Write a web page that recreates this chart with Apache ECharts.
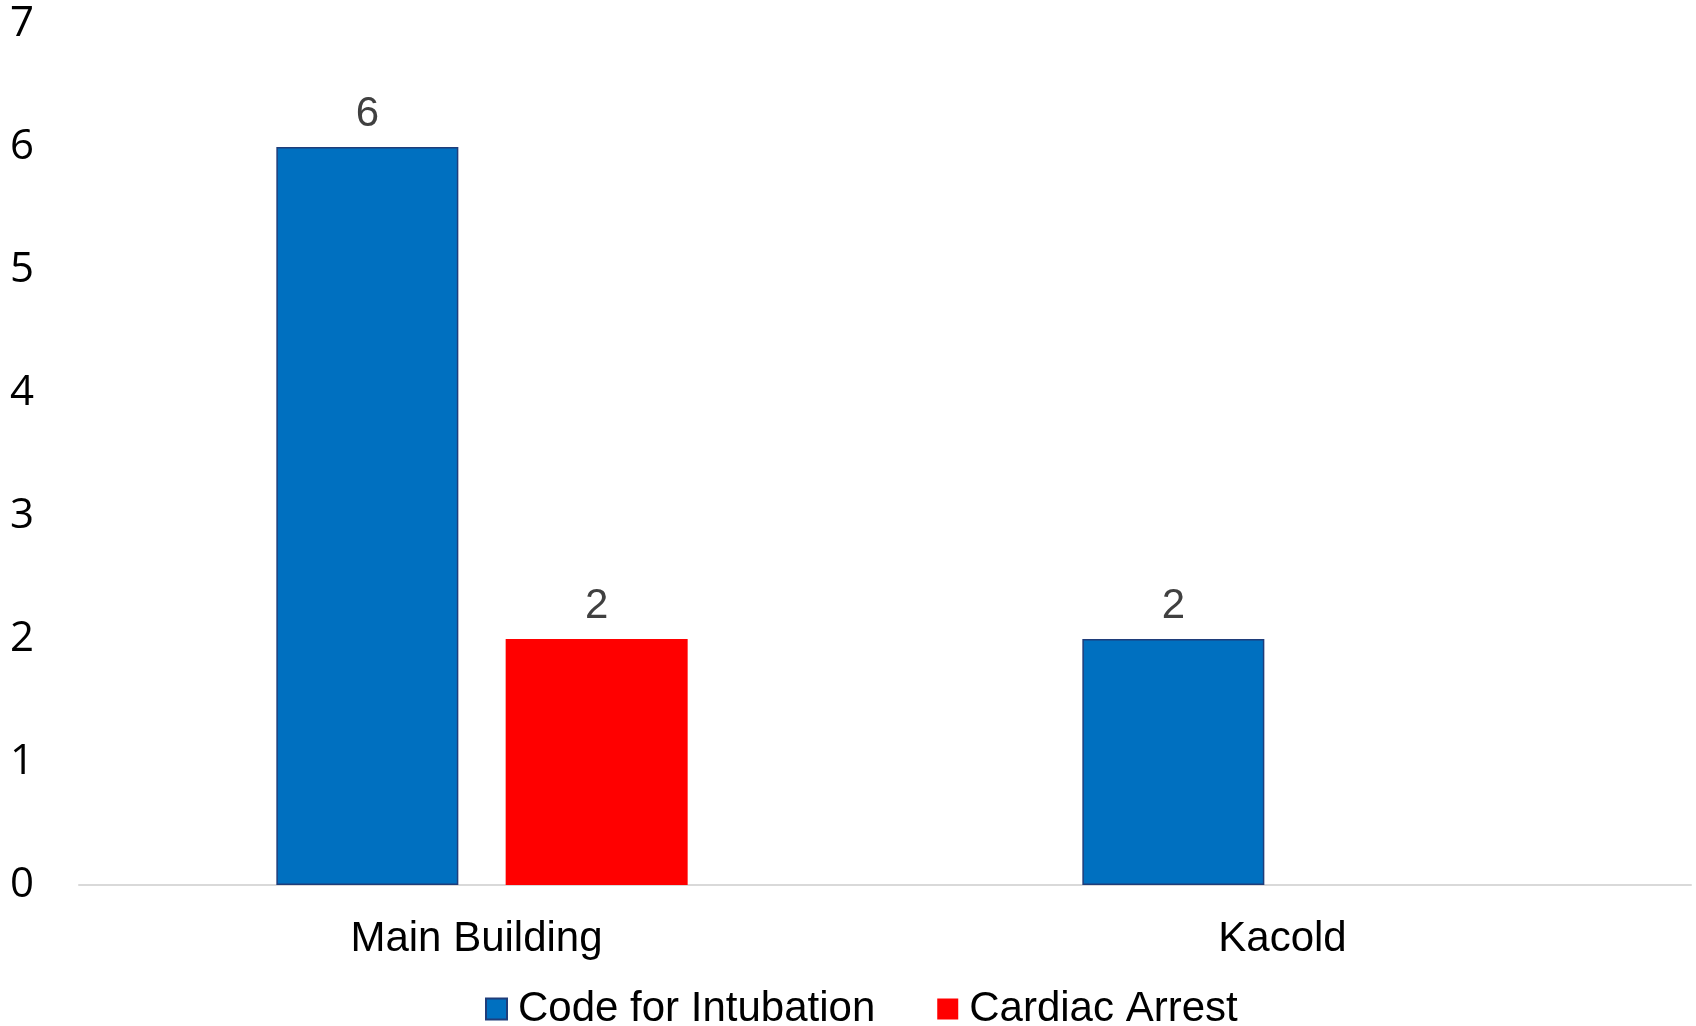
<!DOCTYPE html>
<html>
<head>
<meta charset="utf-8">
<script src="https://cdn.jsdelivr.net/npm/echarts@6/dist/echarts.min.js"></script>
<style>
  html, body { margin: 0; padding: 0; background: #fff; }
  #chart { width: 1696px; height: 1026px; }
</style>
</head>
<body>
<div id="chart"></div>
<script>
  var categories = ['Main Building', 'Kacold']
  var intubation = [6, 2]
  var cardiacArrest = [2, null]
  var yTicks = { min: 0, max: 7, interval: 1 }

  var myChart = echarts.init(document.getElementById('chart'))
  var labelStyle = {
    show: true,
    position: 'top',
    distance: 12,
    color: '#404040',
    fontFamily: 'Liberation Sans',
    fontSize: 42
  }
  var option = {
    animation: false,
    grid: { left: 79, right: 5, top: 24, bottom: 141 },
    legend: {
      left: 480,
      top: 983,
      itemWidth: 21,
      itemHeight: 21,
      itemGap: 62,
      icon: 'rect',
      textStyle: { fontFamily: 'Liberation Sans', fontSize: 42, color: '#000', padding: [0, 0, 0, 6] },
      data: ['Code for Intubation', 'Cardiac Arrest']
    },
    xAxis: {
      type: 'category',
      data: categories,
      axisLine: { lineStyle: { color: '#d9d9d9', width: 2 } },
      axisTick: { show: false },
      axisLabel: { margin: 33, padding: [0, 11, 0, 0], color: '#000', fontFamily: 'Liberation Sans', fontSize: 42 }
    },
    yAxis: {
      type: 'value',
      min: yTicks.min,
      max: yTicks.max,
      interval: yTicks.interval,
      axisLine: { show: false },
      axisTick: { show: false },
      splitLine: { show: false },
      axisLabel: { margin: 45, padding: [6, 0, 0, 0], color: '#000', fontFamily: 'Open Sans', fontSize: 42 }
    },
    series: [
      {
        name: 'Code for Intubation',
        type: 'bar',
        barWidth: 182,
        barGap: '26%',
        itemStyle: { color: '#0070C0', borderColor: '#1F3D7A', borderWidth: 1.5 },
        label: labelStyle,
        data: intubation
      },
      {
        name: 'Cardiac Arrest',
        type: 'bar',
        barWidth: 182,
        itemStyle: { color: '#FF0000' },
        label: labelStyle,
        data: cardiacArrest
      }
    ]
  }
  myChart.setOption(option)
</script>
</body>
</html>
